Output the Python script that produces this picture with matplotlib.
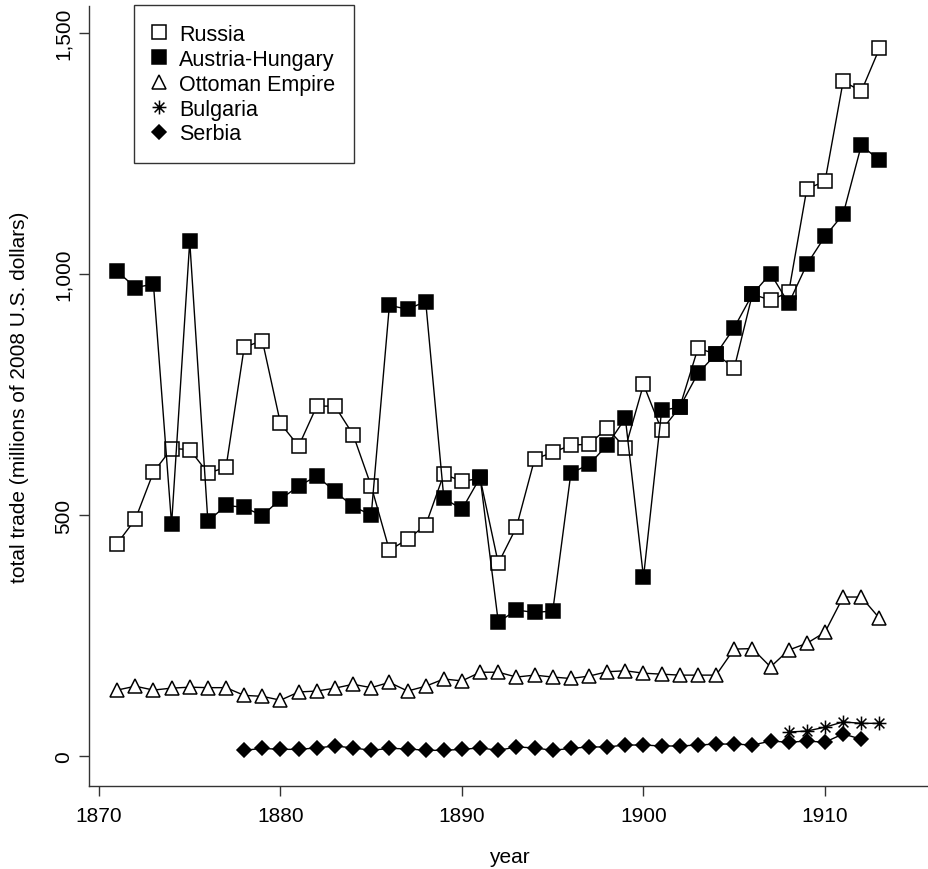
import matplotlib
matplotlib.use("Agg")
import matplotlib.pyplot as plt
from matplotlib.path import Path
from matplotlib.lines import Line2D
from matplotlib.ticker import FuncFormatter
import numpy as np

plt.rcParams['font.family'] = ['Liberation Sans', 'DejaVu Sans']

years_main = list(range(1871, 1914))
russia = [441, 491, 589, 638, 636, 587, 599, 848, 862, 690,
          643, 726, 726, 667, 560, 427, 450, 479, 585, 570,
          576, 400, 475, 616, 630, 645, 647, 680, 639, 771,
          676, 724, 846, 834, 805, 958, 946, 962, 1177, 1192,
          1400, 1379, 1468]
austria = [1006, 972, 979, 481, 1068, 487, 520, 516, 499, 533,
           560, 581, 549, 518, 500, 935, 927, 943, 535, 512,
           578, 278, 303, 298, 301, 587, 605, 645, 701, 371,
           717, 724, 794, 834, 889, 958, 1001, 939, 1020, 1078,
           1124, 1267, 1236]
ottoman = [137, 145, 137, 141, 143, 142, 142, 126, 124, 116,
           133, 135, 141, 149, 142, 153, 135, 145, 160, 156,
           174, 174, 164, 168, 164, 161, 166, 175, 177, 172,
           170, 168, 168, 168, 222, 223, 185, 220, 234, 257,
           330, 330, 286]
years_serbia = list(range(1878, 1913))
serbia = [12, 16, 14, 14, 17, 21, 17, 12, 16, 15,
          12, 12, 14, 17, 12, 19, 17, 12, 16, 19,
          19, 23, 23, 21, 21, 23, 25, 25, 23, 31,
          29, 31, 29, 46, 35]
years_bulgaria = list(range(1908, 1914))
bulgaria = [50, 52, 60, 71, 68, 68]

labels = ["Russia", "Austria-Hungary", "Ottoman Empire", "Bulgaria", "Serbia"]

# asterisk marker (R pch=8)
ang = np.deg2rad(np.arange(0, 360, 45))
verts, codes = [], []
for a in ang[:4]:
    verts += [(np.cos(a), np.sin(a)), (-np.cos(a), -np.sin(a))]
    codes += [Path.MOVETO, Path.LINETO]
star = Path(verts, codes)

fig = plt.figure(figsize=(9.29, 8.70), dpi=100)
ax = fig.add_axes([89/929, 83/870, 840/929, 780/870])

lw = 1.0
common = dict(color='black', lw=lw, markeredgecolor='black', markeredgewidth=1.1)
ax.plot(years_main, russia, marker='s', ms=10, markerfacecolor='white', **common)
ax.plot(years_main, austria, marker='s', ms=10, markerfacecolor='black', **common)
ax.plot(years_main, ottoman, marker='^', ms=10.5, markerfacecolor='white', **common)
ax.plot(years_bulgaria, bulgaria, marker=star, ms=10, markerfacecolor='none', **common)
ax.plot(years_serbia, serbia, marker='D', ms=6.8, markerfacecolor='black', **common)

ax.set_xlim(1869.45, 1915.73)
ax.set_ylim(-62, 1556)
ax.set_xticks([1870, 1880, 1890, 1900, 1910])
ax.set_yticks([0, 500, 1000, 1500])
ax.yaxis.set_major_formatter(FuncFormatter(lambda v, p: f"{int(v):,}"))
for s in ['top', 'right']:
    ax.spines[s].set_visible(False)
for s in ['left', 'bottom']:
    ax.spines[s].set_linewidth(1.0)
    ax.spines[s].set_color('#333333')
ax.tick_params(axis='both', direction='out', length=7.5, width=1.0, color='#333333',
               labelsize=15)
ax.tick_params(axis='x', pad=7)
ax.tick_params(axis='y', pad=4)
for t in ax.get_yticklabels():
    t.set_rotation(90)
    t.set_va('center')
ax.set_xlabel("year", fontsize=15, labelpad=16)
ax.set_ylabel("total trade (millions of 2008 U.S. dollars)", fontsize=15, labelpad=18)

handles = [
    Line2D([], [], ls='none', marker='s', ms=10, mfc='white', mec='black', mew=1.1),
    Line2D([], [], ls='none', marker='s', ms=10, mfc='black', mec='black', mew=1.1),
    Line2D([], [], ls='none', marker='^', ms=10.5, mfc='white', mec='black', mew=1.1),
    Line2D([], [], ls='none', marker=star, ms=10, mfc='none', mec='black', mew=1.1),
    Line2D([], [], ls='none', marker='D', ms=6.8, mfc='black', mec='black', mew=1.1),
]
leg = fig.legend(handles, labels, loc='upper left', bbox_to_anchor=(134/929, 1 - 6/870),
                 borderaxespad=0, frameon=True, fancybox=False, fontsize=15.5,
                 handlelength=0.6, handletextpad=0.6, labelspacing=0.18,
                 borderpad=0.88)
leg.get_frame().set_edgecolor('black')
leg.get_frame().set_linewidth(1.0)

fig.savefig("out.png", dpi=100)
